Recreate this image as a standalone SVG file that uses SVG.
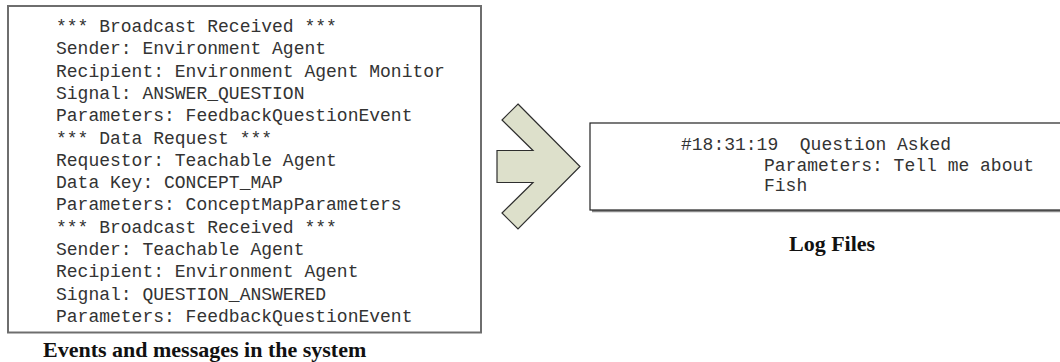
<svg xmlns="http://www.w3.org/2000/svg" width="1060" height="362" viewBox="0 0 1060 362">
  <style>
    .mono { font-family: "Liberation Mono", "Courier New", monospace; font-size: 18px; fill: #333333; white-space: pre; }
    .caption { font-family: "Liberation Serif", "Times New Roman", serif; font-size: 22px; font-weight: bold; fill: #111111; }
    .panel { fill: #ffffff; stroke: #6e6e6e; stroke-width: 2; }
    .logbox { fill: #ffffff; stroke: #222222; stroke-width: 1.2; }
    .shadow { fill: none; stroke: #8a8a8a; stroke-width: 2.5; }
    .flow { fill: #dde0cb; stroke: #2e2e2e; stroke-width: 1.2; stroke-linejoin: miter; }
  </style>

  <rect width="1060" height="362" fill="#ffffff"/>

  <!-- Event / message trace panel -->
  <g id="events">
    <rect class="panel" x="8" y="6" width="473" height="326.5"/>
    <text class="mono" x="56" y="32">*** Broadcast Received ***</text>
    <text class="mono" x="56" y="54.3">Sender: Environment Agent</text>
    <text class="mono" x="56" y="76.6">Recipient: Environment Agent Monitor</text>
    <text class="mono" x="56" y="98.9">Signal: ANSWER_QUESTION</text>
    <text class="mono" x="56" y="121.2">Parameters: FeedbackQuestionEvent</text>
    <text class="mono" x="56" y="143.5">*** Data Request ***</text>
    <text class="mono" x="56" y="165.8">Requestor: Teachable Agent</text>
    <text class="mono" x="56" y="188.1">Data Key: CONCEPT_MAP</text>
    <text class="mono" x="56" y="210.4">Parameters: ConceptMapParameters</text>
    <text class="mono" x="56" y="232.7">*** Broadcast Received ***</text>
    <text class="mono" x="56" y="255">Sender: Teachable Agent</text>
    <text class="mono" x="56" y="277.3">Recipient: Environment Agent</text>
    <text class="mono" x="56" y="299.6">Signal: QUESTION_ANSWERED</text>
    <text class="mono" x="56" y="321.9">Parameters: FeedbackQuestionEvent</text>
    <text class="caption" x="43" y="357">Events and messages in the system</text>
  </g>

  <!-- Block arrow between the panels -->
  <g id="connectors">
    <polygon class="flow" points="518,104 580,166.5 518,229 502,213 533,182.5 497,182.5 497,150.5 533,150.5 502,120"/>
  </g>

  <!-- Log file excerpt -->
  <g id="logfiles">
    <line class="shadow" x1="592" y1="211" x2="1062" y2="211"/>
    <rect class="logbox" x="590" y="123" width="480" height="87"/>
    <text class="mono" x="681" y="150" xml:space="preserve">#18:31:19  Question Asked</text>
    <text class="mono" x="764" y="171">Parameters: Tell me about</text>
    <text class="mono" x="764" y="191">Fish</text>
    <text class="caption" x="789" y="251">Log Files</text>
  </g>
</svg>
